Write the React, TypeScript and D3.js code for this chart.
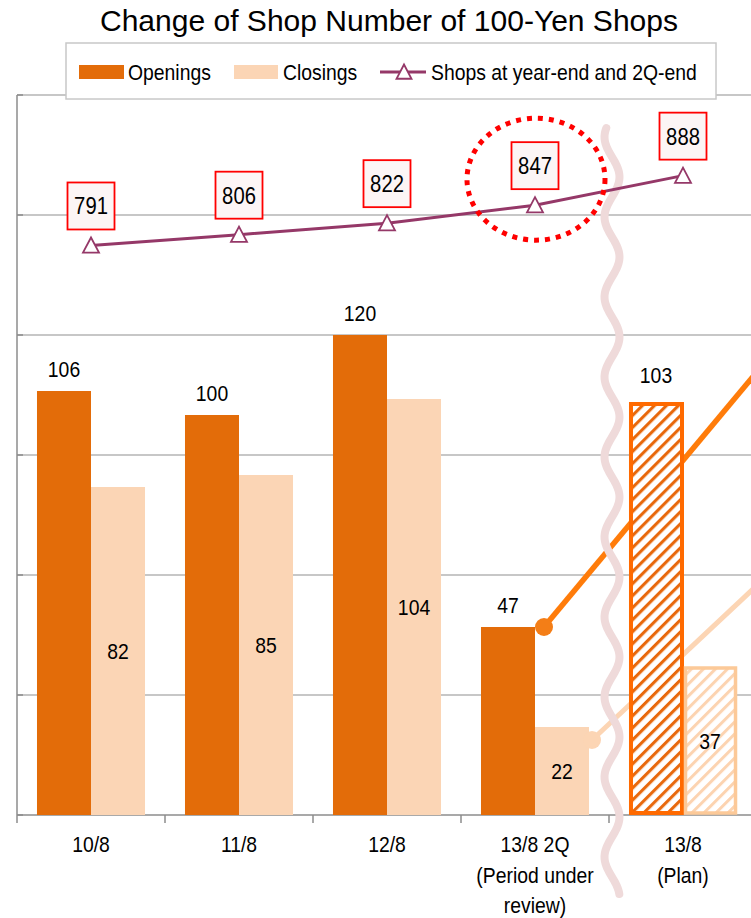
import React from 'react';
import * as d3 from 'd3';

const categories = ['10/8', '11/8', '12/8', '13/8 2Q', '13/8 Plan'];
const categoryLabels = [['10/8'], ['11/8'], ['12/8'], ['13/8 2Q', '(Period under', 'review)'], ['13/8', '(Plan)']];
const openings = [106, 100, 120, 47, 103];
const closings = [82, 85, 104, 22, 37];
const shops = [791, 806, 822, 847, 888];
const isPlan = [false, false, false, false, true];
const yTicks = [0, 30, 60, 90, 120, 150, 180];
const seriesKeys = ['Openings', 'Closings'];
const title = 'Change of Shop Number of 100-Yen Shops';
const lineName = 'Shops at year-end and 2Q-end';
// annotation arrows from the 2Q bars: target value where they leave the frame
const arrowTargets = [109, 56];

const W = 751, H = 918;
const FONT = "'Liberation Sans', Arial, sans-serif";
const C_OPEN = '#e36c09';
const C_CLOSE = '#fbd5b5';
const C_LINE = '#953868';
const SX = 0.88;

function NText({ x, y, anchor = 'start', size = 22, children }: { x: number; y: number; anchor?: string; size?: number; children: React.ReactNode }) {
  return (
    <text transform={`translate(${x},${y}) scale(${SX},1)`} x={0} y={0} textAnchor={anchor as any} fontSize={size} fill="#000">{children}</text>
  );
}

export default function App() {
  const left = 17, right = 757, top = 95, bottom = 815;
  const x0 = d3.scaleBand<string>().domain(categories).range([left, right]);
  const x1 = d3.scaleBand<string>().domain(seriesKeys).range([0, x0.bandwidth()]).paddingOuter(0.37);
  const y = d3.scaleLinear().domain([0, 180]).range([bottom, top]);
  const y2 = d3.scaleLinear().domain([0, 1000]).range([bottom, top]);
  const bw = x1.bandwidth();
  const cx = (i: number) => (x0(categories[i]) as number) + x0.bandwidth() / 2;

  const linePath = d3.line<number>().x((_, i) => cx(i)).y(d => y2(d))(shops) as string;

  // wavy break line
  const waveX = (x0(categories[4]) as number);
  const wavePts = d3.range(128, 896, 2).map(v => [waveX + 3 - 7.5 * Math.cos((2 * Math.PI * (v - 137)) / 80), v] as [number, number]);
  const wavePath = d3.line().curve(d3.curveBasis)(wavePts) as string;

  // annotation arrows
  const i2q = 3;
  const oStart: [number, number] = [(x0(categories[i2q]) as number) + (x1('Openings') as number) + bw + 9, y(openings[i2q])];
  const cStart: [number, number] = [(x0(categories[i2q]) as number) + (x1('Closings') as number) + bw + 3, y(closings[i2q]) + 13];
  const oEnd: [number, number] = [W, y(arrowTargets[0])];
  const cEnd: [number, number] = [W, y(arrowTargets[1])];
  const extend = (s: [number, number], e: [number, number]) => s[1] + (e[1] - s[1]) * (e[0] + 20 - s[0]) / (e[0] - s[0]);

  const tri = (px: number, py: number, s = 8) => `M${px},${py - s}L${px + s},${py + s * 0.9}L${px - s},${py + s * 0.9}Z`;

  return (
    <svg width={W} height={H} style={{ position: 'absolute', left: 0, top: 0, display: 'block', background: '#fff' }} fontFamily={FONT}>
      <defs>
        <pattern id="hatchO" patternUnits="userSpaceOnUse" width="8.5" height="8.5" patternTransform="rotate(45)">
          <rect width="8.5" height="8.5" fill="#fff" />
          <line x1="1.5" y1="0" x2="1.5" y2="8.5" stroke="#e8680c" strokeWidth="3.2" />
        </pattern>
        <pattern id="hatchC" patternUnits="userSpaceOnUse" width="8.5" height="8.5" patternTransform="rotate(45)">
          <rect width="8.5" height="8.5" fill="#fff" />
          <line x1="1.5" y1="0" x2="1.5" y2="8.5" stroke="#fcd3b0" strokeWidth="3" />
        </pattern>
      </defs>

      {/* title */}
      <text x={389} y={31} textAnchor="middle" fontSize={30} textLength={578} lengthAdjust="spacingAndGlyphs" fill="#000">{title}</text>

      {/* gridlines */}
      {yTicks.map(t => (
        <line key={t} x1={left} x2={W} y1={y(t)} y2={y(t)} stroke={t === 0 ? '#8c8c8c' : '#b4b4b4'} strokeWidth={1.5} />
      ))}
      {yTicks.map(t => (
        <line key={'t' + t} x1={left} x2={left + 6} y1={y(t)} y2={y(t)} stroke="#8c8c8c" strokeWidth={1.5} />
      ))}
      <line x1={left} x2={left} y1={top} y2={bottom} stroke="#8c8c8c" strokeWidth={1.5} />
      {categories.map((c) => (
        <line key={c} x1={x0(c) as number} x2={x0(c) as number} y1={bottom} y2={bottom + 8} stroke="#8c8c8c" strokeWidth={1.5} />
      ))}

      {/* actual bars */}
      {categories.map((c, i) => isPlan[i] ? null : (
        <g key={c}>
          <rect x={(x0(c) as number) + (x1('Openings') as number)} y={y(openings[i])} width={bw} height={bottom - y(openings[i])} fill={C_OPEN} />
          <rect x={(x0(c) as number) + (x1('Closings') as number)} y={y(closings[i])} width={bw} height={bottom - y(closings[i])} fill={C_CLOSE} />
        </g>
      ))}

      {/* annotation arrows */}
      <line x1={oStart[0]} y1={oStart[1]} x2={oEnd[0] + 20} y2={extend(oStart, oEnd)} stroke="#ff7c0a" strokeWidth={5.5} />
      <circle cx={oStart[0]} cy={oStart[1]} r={9} fill="#f47e17" />
      <line x1={cStart[0]} y1={cStart[1]} x2={cEnd[0] + 20} y2={extend(cStart, cEnd)} stroke="#fcd5b4" strokeWidth={5} />
      <circle cx={cStart[0]} cy={cStart[1]} r={9} fill="#fcd5b4" />

      {/* plan bars */}
      {categories.map((c, i) => !isPlan[i] ? null : (
        <g key={c}>
          <rect x={(x0(c) as number) + (x1('Openings') as number) + 2} y={y(openings[i]) + 1} width={bw - 3} height={bottom - y(openings[i]) - 3} fill="url(#hatchO)" stroke="#ff6a00" strokeWidth={4} />
          <rect x={(x0(c) as number) + (x1('Closings') as number) + 2.5} y={y(closings[i]) + 1} width={bw - 4} height={bottom - y(closings[i]) - 3} fill="url(#hatchC)" stroke="#fcc998" strokeWidth={3.5} />
        </g>
      ))}

      {/* bar labels */}
      {categories.map((c, i) => (
        <g key={'l' + c}>
          <NText x={(x0(c) as number) + (x1('Openings') as number) + bw / 2} y={y(openings[i]) - (isPlan[i] ? 20 : 14)} anchor="middle">{openings[i]}</NText>
          <NText x={(x0(c) as number) + (x1('Closings') as number) + bw / 2} y={(y(closings[i]) + bottom) / 2 + 8} anchor="middle">{closings[i]}</NText>
        </g>
      ))}

      {/* wavy break */}
      <path d={wavePath} fill="none" stroke="#efdada" strokeWidth={8} strokeLinecap="round" />

      {/* line series */}
      <path d={linePath} fill="none" stroke={C_LINE} strokeWidth={3} />
      {shops.map((v, i) => (
        <path key={'m' + i} d={tri(cx(i), y2(v))} fill="#fff" stroke={C_LINE} strokeWidth={1.8} />
      ))}
      {shops.map((v, i) => (
        <g key={'b' + i}>
          <rect x={cx(i) - 23.5} y={y2(v) - 63} width={47} height={47} fill="#fcf5f5" stroke="#ff0000" strokeWidth={1.8} />
          <NText x={cx(i)} y={y2(v) - 31} anchor="middle" size={23}>{v}</NText>
        </g>
      ))}

      {/* dotted highlight circle */}
      <ellipse cx={cx(3) + 1} cy={y2(shops[3]) - 26} rx={69} ry={61} fill="none" stroke="#ff0000" strokeWidth={5} strokeDasharray="5 6" />

      {/* x labels */}
      {categoryLabels.map((lines, i) => (
        <g key={'x' + i}>
          {lines.map((s, j) => <NText key={j} x={cx(i)} y={852 + j * 30.5} anchor="middle">{s}</NText>)}
        </g>
      ))}

      {/* legend */}
      <rect x={66} y={43} width={650} height={56} fill="#fff" stroke="#c8c8c8" strokeWidth={1.5} />
      <rect x={79} y={65} width={45} height={14} fill={C_OPEN} />
      <NText x={128} y={80}>{seriesKeys[0]}</NText>
      <rect x={234} y={65} width={44} height={14} fill={C_CLOSE} />
      <NText x={283} y={80}>{seriesKeys[1]}</NText>
      <line x1={380} x2={426} y1={72} y2={72} stroke={C_LINE} strokeWidth={3} />
      <path d={tri(404, 72, 7.5)} fill="#fff" stroke={C_LINE} strokeWidth={1.8} />
      <NText x={431} y={80}>{lineName}</NText>
    </svg>
  );
}
